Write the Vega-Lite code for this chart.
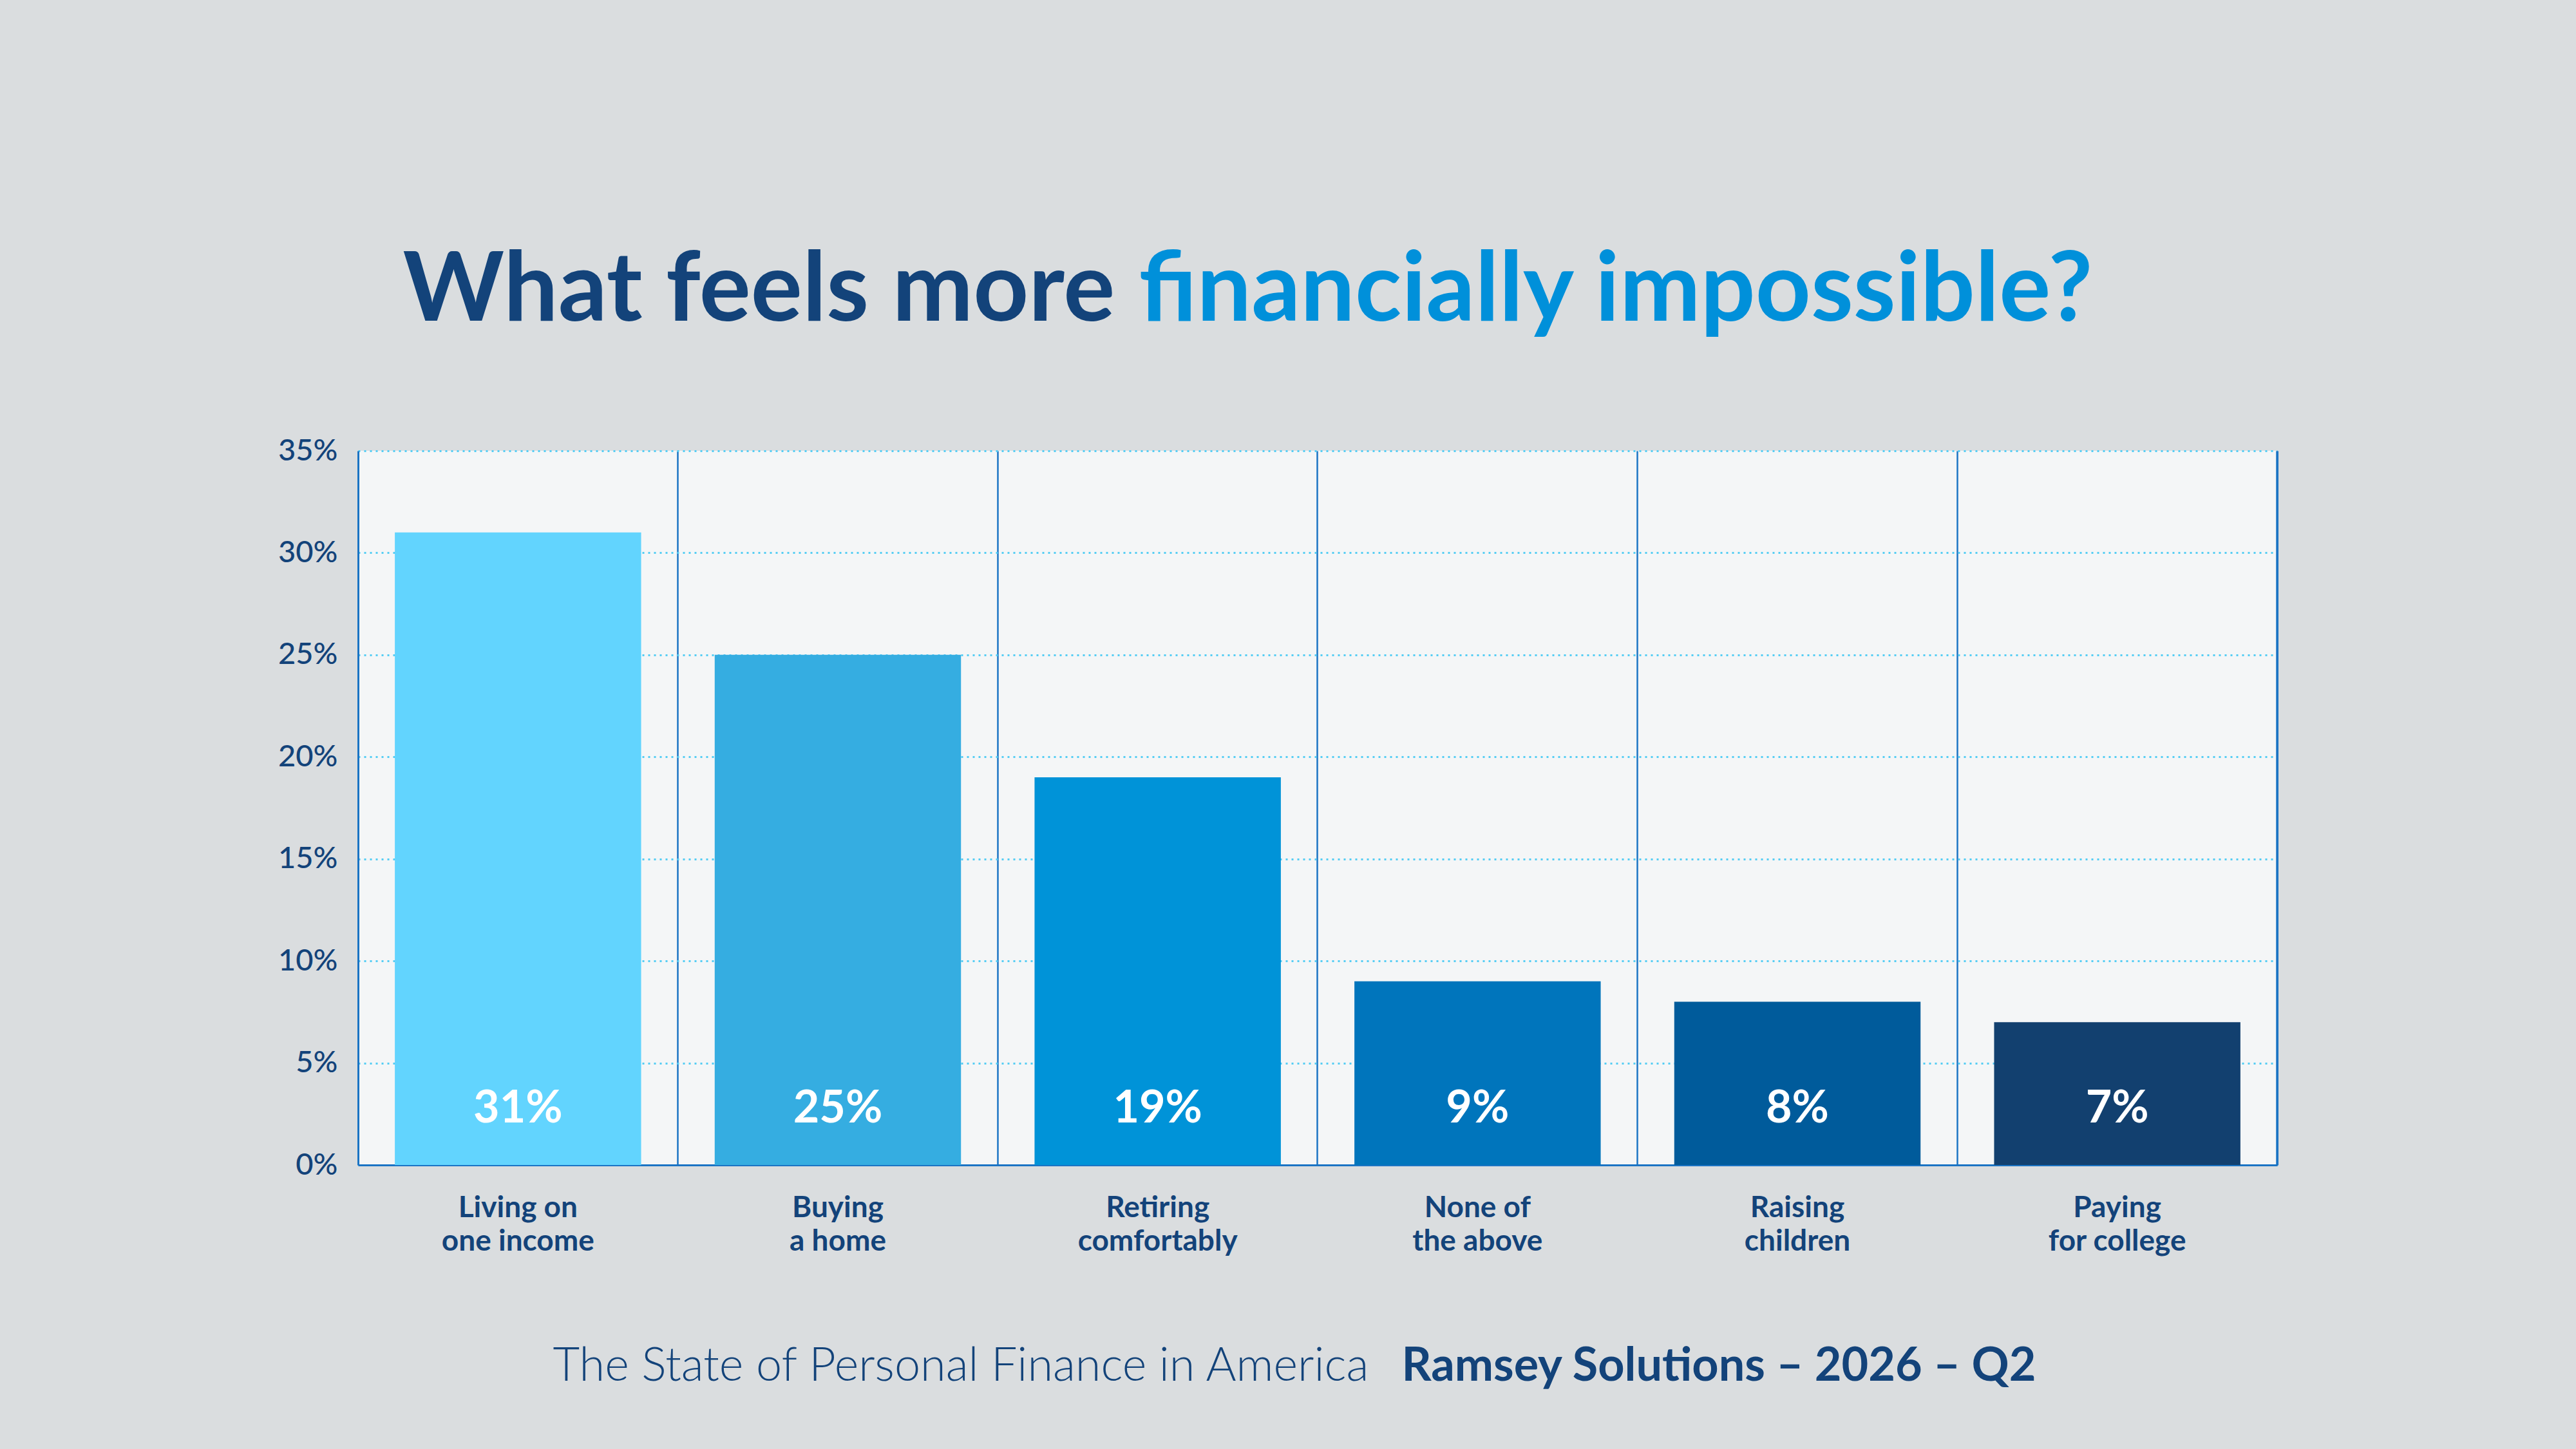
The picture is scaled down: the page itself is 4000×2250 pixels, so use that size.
{
  "$schema": "https://vega.github.io/schema/vega-lite/v6.json",
  "description": "What feels more financially impossible? Ramsey Solutions survey, 2026 Q2.",
  "autosize": "none",
  "width": 2980,
  "height": 1109,
  "padding": {"left": 556, "top": 700, "right": 464, "bottom": 441},
  "background": "#dadddf",
  "config": {
    "font": "Lato",
    "view": {"fill": "#f4f6f7", "stroke": null}
  },
  "data": {
    "values": [
      {"answer": "Living on one income", "share": 0.31},
      {"answer": "Buying a home", "share": 0.25},
      {"answer": "Retiring comfortably", "share": 0.19},
      {"answer": "None of the above", "share": 0.09},
      {"answer": "Raising children", "share": 0.08},
      {"answer": "Paying for college", "share": 0.07}
    ]
  },
  "resolve": {"axis": {"x": "independent", "y": "independent"}},
  "layer": [
    {
      "mark": {"type": "bar"},
      "encoding": {
        "x": {
          "field": "answer",
          "type": "nominal",
          "sort": null,
          "scale": {"paddingInner": 0.23, "paddingOuter": 0.115},
          "axis": {
            "orient": "bottom",
            "title": "The State of Personal Finance in America",
            "titleFont": "Lato",
            "titleFontSize": 72,
            "titleFontWeight": 300,
            "titleColor": "#13437a",
            "titleAlign": "left",
            "titleBaseline": "alphabetic",
            "titleAnchor": "start",
            "titleX": 302,
            "titleY": 334,
            "labelAngle": 0,
            "labelExpr": "[join(slice(split(datum.label, ' '), 0, floor(length(split(datum.label, ' ')) / 2)), ' '), join(slice(split(datum.label, ' '), floor(length(split(datum.label, ' ')) / 2)), ' ')]",
            "labelFont": "Lato",
            "labelFontSize": 46,
            "labelFontWeight": "bold",
            "labelColor": "#13437a",
            "labelLineHeight": 52,
            "labelPadding": 44,
            "labelBaseline": "top",
            "labelLimit": 0,
            "ticks": false,
            "domainColor": "#1b74c4",
            "domainWidth": 3,
            "grid": true,
            "bandPosition": 1.149,
            "gridColor": "#1b74c4",
            "gridWidth": 2.5
          }
        },
        "y": {
          "field": "share",
          "type": "quantitative",
          "scale": {"domain": [0, 0.35]},
          "axis": {
            "orient": "left",
            "title": "What feels more",
            "titleFont": "Lato",
            "titleFontSize": 150,
            "titleFontWeight": "bold",
            "titleColor": "#13437a",
            "titleAngle": 0,
            "titleAlign": "left",
            "titleBaseline": "alphabetic",
            "titleX": 69,
            "titleY": -203,
            "values": [0, 0.05, 0.1, 0.15, 0.2, 0.25, 0.3, 0.35],
            "format": ".0%",
            "labelFont": "Lato",
            "labelFontSize": 47,
            "labelFontWeight": 500,
            "labelColor": "#13437a",
            "labelPadding": 32,
            "ticks": false,
            "domainColor": "#1b74c4",
            "domainWidth": 3,
            "grid": true,
            "gridColor": "#55cdf4",
            "gridWidth": 3,
            "gridDash": [3, 6]
          }
        },
        "color": {
          "field": "answer",
          "type": "nominal",
          "sort": null,
          "legend": null,
          "scale": {
            "domain": ["Living on one income", "Buying a home", "Retiring comfortably", "None of the above", "Raising children", "Paying for college"],
            "range": ["#62d4fe", "#35ade1", "#0093d8", "#0075bc", "#005b9b", "#12406f"]
          }
        }
      }
    },
    {
      "mark": {"type": "text", "align": "center", "baseline": "middle", "dy": -87, "font": "Lato", "fontSize": 70, "fontWeight": "bold", "color": "white"},
      "encoding": {
        "x": {
          "field": "answer",
          "type": "nominal",
          "sort": null,
          "axis": {
            "orient": "top",
            "title": "financially impossible?",
            "titleFont": "Lato",
            "titleFontSize": 150,
            "titleFontWeight": "bold",
            "titleColor": "#0090da",
            "titleAlign": "left",
            "titleBaseline": "alphabetic",
            "titleAnchor": "start",
            "titleX": 1212,
            "titleY": -203,
            "labels": false,
            "ticks": false,
            "domain": false,
            "grid": false
          }
        },
        "y": {
          "datum": 0,
          "type": "quantitative",
          "axis": {
            "orient": "right",
            "title": "Ramsey Solutions – 2026 – Q2",
            "titleFont": "Lato",
            "titleFontSize": 72,
            "titleFontWeight": "bold",
            "titleColor": "#13437a",
            "titleAngle": 0,
            "titleAlign": "left",
            "titleBaseline": "alphabetic",
            "titleX": -1360,
            "titleY": 1443,
            "labels": false,
            "ticks": false,
            "grid": false,
            "domain": true,
            "domainColor": "#1b74c4",
            "domainWidth": 3
          }
        },
        "text": {"field": "share", "type": "quantitative", "format": ".0%"}
      }
    }
  ]
}
